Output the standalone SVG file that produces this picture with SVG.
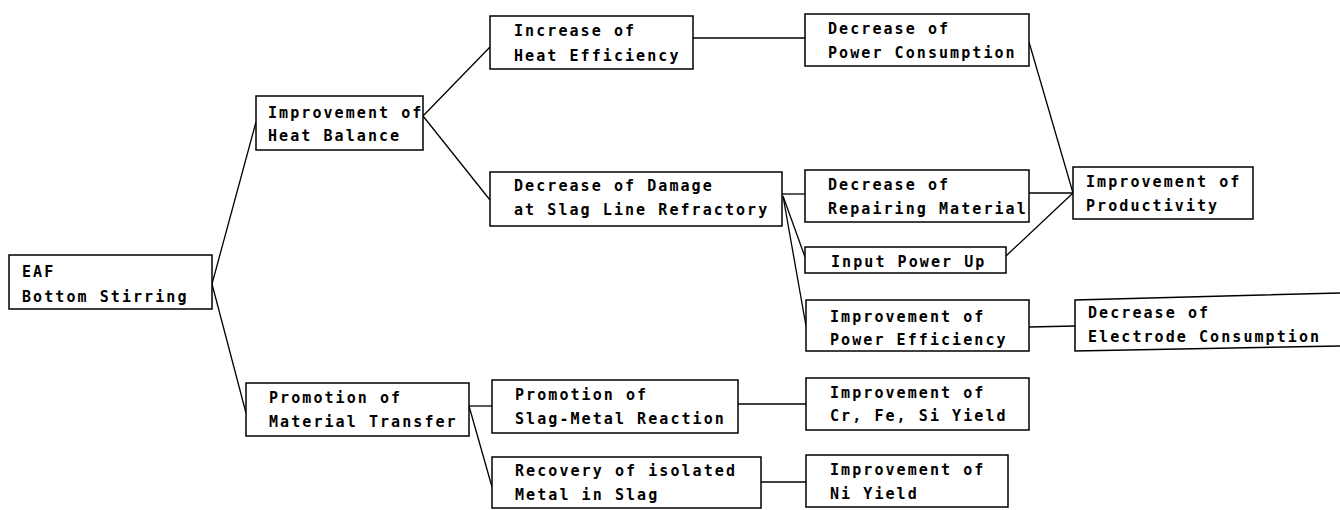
<svg xmlns="http://www.w3.org/2000/svg" width="1340" height="510" viewBox="0 0 1340 510">
<style>
.box{fill:#fff;stroke:#000;stroke-width:1.5}
.t{font-family:"DejaVu Sans Mono","Liberation Mono",monospace;font-size:15px;font-weight:bold;letter-spacing:2.07px;fill:#000}
.c{stroke:#000;stroke-width:1.3;fill:none}
</style>
<rect width="1340" height="510" fill="#fff"/>
<g id="connectors">
<line class="c" x1="212" y1="284" x2="256" y2="122"/>
<line class="c" x1="212" y1="284" x2="246" y2="413"/>
<line class="c" x1="423" y1="116" x2="490" y2="47"/>
<line class="c" x1="423" y1="116" x2="490" y2="200"/>
<line class="c" x1="693" y1="38" x2="805" y2="38"/>
<line class="c" x1="782" y1="194" x2="805" y2="194"/>
<line class="c" x1="783" y1="196" x2="805" y2="257"/>
<line class="c" x1="783" y1="196" x2="806" y2="326"/>
<line class="c" x1="1029" y1="42" x2="1073" y2="193"/>
<line class="c" x1="1029" y1="193" x2="1073" y2="193"/>
<line class="c" x1="1006" y1="256" x2="1073" y2="193"/>
<line class="c" x1="1029" y1="327" x2="1075" y2="326"/>
<line class="c" x1="469" y1="406" x2="492" y2="406"/>
<line class="c" x1="469" y1="406" x2="492" y2="487"/>
<line class="c" x1="738" y1="404" x2="806" y2="404"/>
<line class="c" x1="761" y1="482" x2="806" y2="482"/>
</g>
<g id="n-eaf"><rect class="box" x="9" y="255" width="203" height="54"/><text class="t" x="22" y="277">EAF</text><text class="t" x="22" y="302">Bottom Stirring</text></g>
<g id="n-heatbal"><rect class="box" x="256" y="96" width="167" height="54"/><text class="t" x="268" y="118">Improvement of</text><text class="t" x="268" y="141">Heat Balance</text></g>
<g id="n-mattrans"><rect class="box" x="246" y="383" width="223" height="53"/><text class="t" x="269" y="403">Promotion of</text><text class="t" x="269" y="427">Material Transfer</text></g>
<g id="n-heateff"><rect class="box" x="490" y="16" width="203" height="53"/><text class="t" x="514" y="36">Increase of</text><text class="t" x="514" y="61">Heat Efficiency</text></g>
<g id="n-damage"><rect class="box" x="490" y="172" width="292" height="54"/><text class="t" x="514" y="191">Decrease of Damage</text><text class="t" x="514" y="215">at Slag Line Refractory</text></g>
<g id="n-slagmetal"><rect class="box" x="492" y="380" width="246" height="53"/><text class="t" x="515" y="400">Promotion of</text><text class="t" x="515" y="424">Slag-Metal Reaction</text></g>
<g id="n-recovery"><rect class="box" x="492" y="457" width="269" height="51"/><text class="t" x="515" y="476">Recovery of isolated</text><text class="t" x="515" y="500">Metal in Slag</text></g>
<g id="n-powercons"><rect class="box" x="805" y="14" width="224" height="52"/><text class="t" x="828" y="34">Decrease of</text><text class="t" x="828" y="58">Power Consumption</text></g>
<g id="n-repair"><rect class="box" x="805" y="170" width="224" height="52"/><text class="t" x="828" y="190">Decrease of</text><text class="t" x="828" y="214">Repairing Material</text></g>
<g id="n-inputpower"><rect class="box" x="805" y="247" width="201" height="26"/><text class="t" x="831" y="267">Input Power Up</text></g>
<g id="n-powereff"><rect class="box" x="806" y="300" width="223" height="51"/><text class="t" x="830" y="322">Improvement of</text><text class="t" x="830" y="345">Power Efficiency</text></g>
<g id="n-crfesi"><rect class="box" x="806" y="378" width="223" height="52"/><text class="t" x="830" y="398">Improvement of</text><text class="t" x="830" y="421">Cr, Fe, Si Yield</text></g>
<g id="n-ni"><rect class="box" x="806" y="455" width="202" height="52"/><text class="t" x="830" y="475">Improvement of</text><text class="t" x="830" y="499">Ni Yield</text></g>
<g id="n-productivity"><rect class="box" x="1073" y="167" width="180" height="52"/><text class="t" x="1086" y="187">Improvement of</text><text class="t" x="1086" y="211">Productivity</text></g>
<g id="n-electrode"><path class="box" d="M1341,293 L1075,300 L1075,351 L1341,346"/><text class="t" x="1088" y="318">Decrease of</text><text class="t" x="1088" y="342">Electrode Consumption</text></g>
</svg>
